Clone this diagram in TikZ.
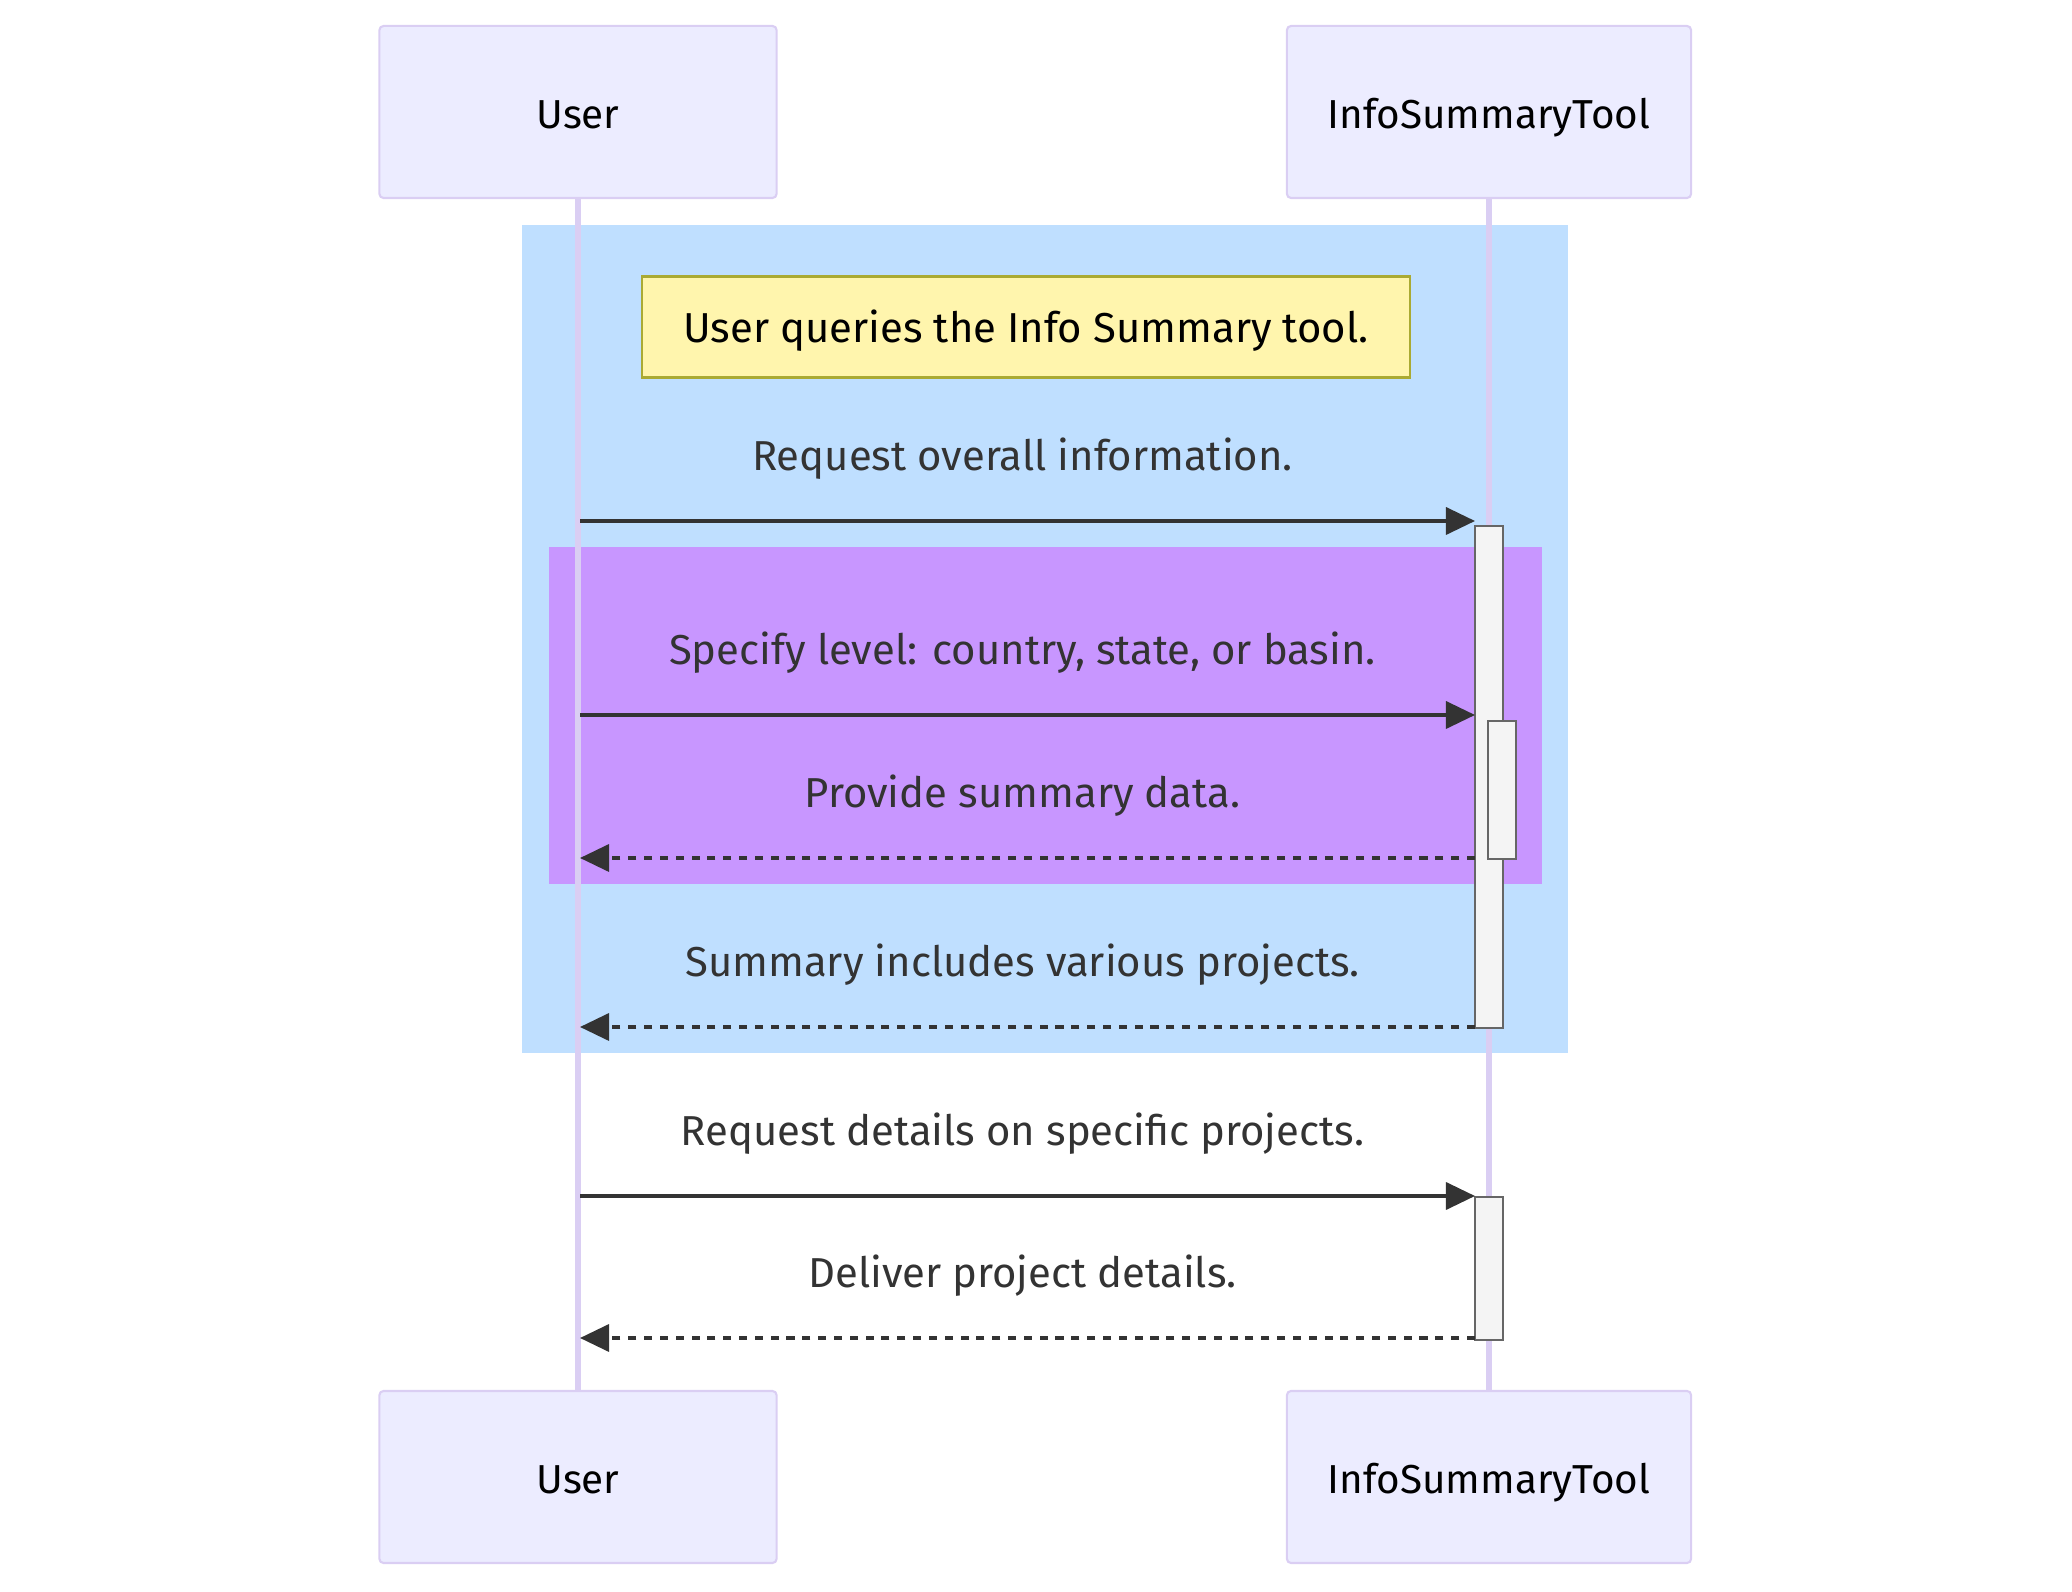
\documentclass[tikz,border=0pt]{standalone}
\usepackage{fontspec}
\setmainfont{Fira Sans}
\usetikzlibrary{arrows.meta}
\definecolor{actfill}{HTML}{ECECFF}
\definecolor{actline}{HTML}{DACEF3}
\definecolor{notefill}{HTML}{FFF5AD}
\definecolor{noteline}{HTML}{AAAA33}
\definecolor{barfill}{HTML}{F4F4F4}
\definecolor{barline}{HTML}{666666}
\definecolor{sig}{HTML}{333333}
\definecolor{outerbg}{RGB}{191,223,255}
\definecolor{innerbg}{RGB}{200,150,255}
\newcommand{\lblsize}{\fontsize{11.9pt}{14pt}\selectfont}
\newcommand{\actsize}{\fontsize{11.5pt}{14pt}\selectfont}
\tikzset{
  actor/.style={draw=actline, fill=actfill, line width=0.6pt, rounded corners=1.2pt,
    minimum height=1.72cm, font=\actsize, text=black, text height=9.2pt, text depth=0pt},
  note/.style={draw=noteline, fill=notefill, line width=0.6pt, minimum width=7.67cm,
    minimum height=1.01cm, font=\lblsize, text=black, text height=8.8pt, text depth=0pt},
  actbar/.style={draw=barline, fill=barfill, line width=0.6pt, minimum width=0.28cm,
    inner sep=0pt, anchor=north},
  lifeline/.style={draw=actline, line width=1.5pt},
  msg/.style={draw=sig, line width=1pt, -{Triangle[length=0.29cm,width=0.27cm]}},
  reply/.style={msg, dash pattern=on 2.3pt off 2.2pt},
  lbl/.style={font=\lblsize, text=sig, anchor=base, inner sep=0pt, xshift=-0.05cm, yshift=0.5cm}
}
\begin{document}
\begin{tikzpicture}[x=0.01cm,y=-0.01cm]
		\useasboundingbox (0,0) rectangle (2072,1592);
		% rect blocks
		\fill[outerbg] (522,225) rectangle (1568,1053);
		\fill[innerbg] (549,547) rectangle (1542,884);
		% actors
		\node[actor, minimum width=3.97cm] (userTop) at (578,112){User};
		\node[actor, minimum width=4.04cm] (toolTop) at (1489,112){InfoSummaryTool};
		\node[actor, minimum width=3.97cm] (userBot) at (578,1477){User};
		\node[actor, minimum width=4.04cm] (toolBot) at (1489,1477){InfoSummaryTool};
		\draw[lifeline] (userTop)--(userBot);
		\draw[lifeline] (toolTop)--(toolBot);
		\node[note] (qnote) at (1026,327){User queries the Info Summary tool.};
		% activations
		\node[actbar, minimum height=5.02cm] (act1) at (1489,525){};
		\node[actbar, minimum height=1.38cm] (act2) at (1502,720){};
		\node[actbar, minimum height=1.43cm] (act3) at (1489,1196){};
		% message ends
		\coordinate (m1a) at (580,521); \coordinate (m1b) at (1475,521);
		\coordinate (m2a) at (580,715); \coordinate (m2b) at (1475,715);
		\coordinate (m3a) at (1475,858); \coordinate (m3b) at (580,858);
		\coordinate (m4a) at (1475,1027); \coordinate (m4b) at (580,1027);
		\coordinate (m5a) at (580,1196); \coordinate (m5b) at (1475,1196);
		\coordinate (m6a) at (1475,1338); \coordinate (m6b) at (580,1338);
		\draw[msg] (m1a)--(m1b) node[lbl, midway]{Request overall information.};
		\draw[msg] (m2a)--(m2b) node[lbl, midway]{Specify level: country, state, or basin.};
		\draw[reply] (m3a)--(m3b) node[lbl, midway]{Provide summary data.};
		\draw[reply] (m4a)--(m4b) node[lbl, midway]{Summary includes various projects.};
		\draw[msg] (m5a)--(m5b) node[lbl, midway]{Request details on specific projects.};
		\draw[reply] (m6a)--(m6b) node[lbl, midway]{Deliver project details.};
\end{tikzpicture}
\end{document}
